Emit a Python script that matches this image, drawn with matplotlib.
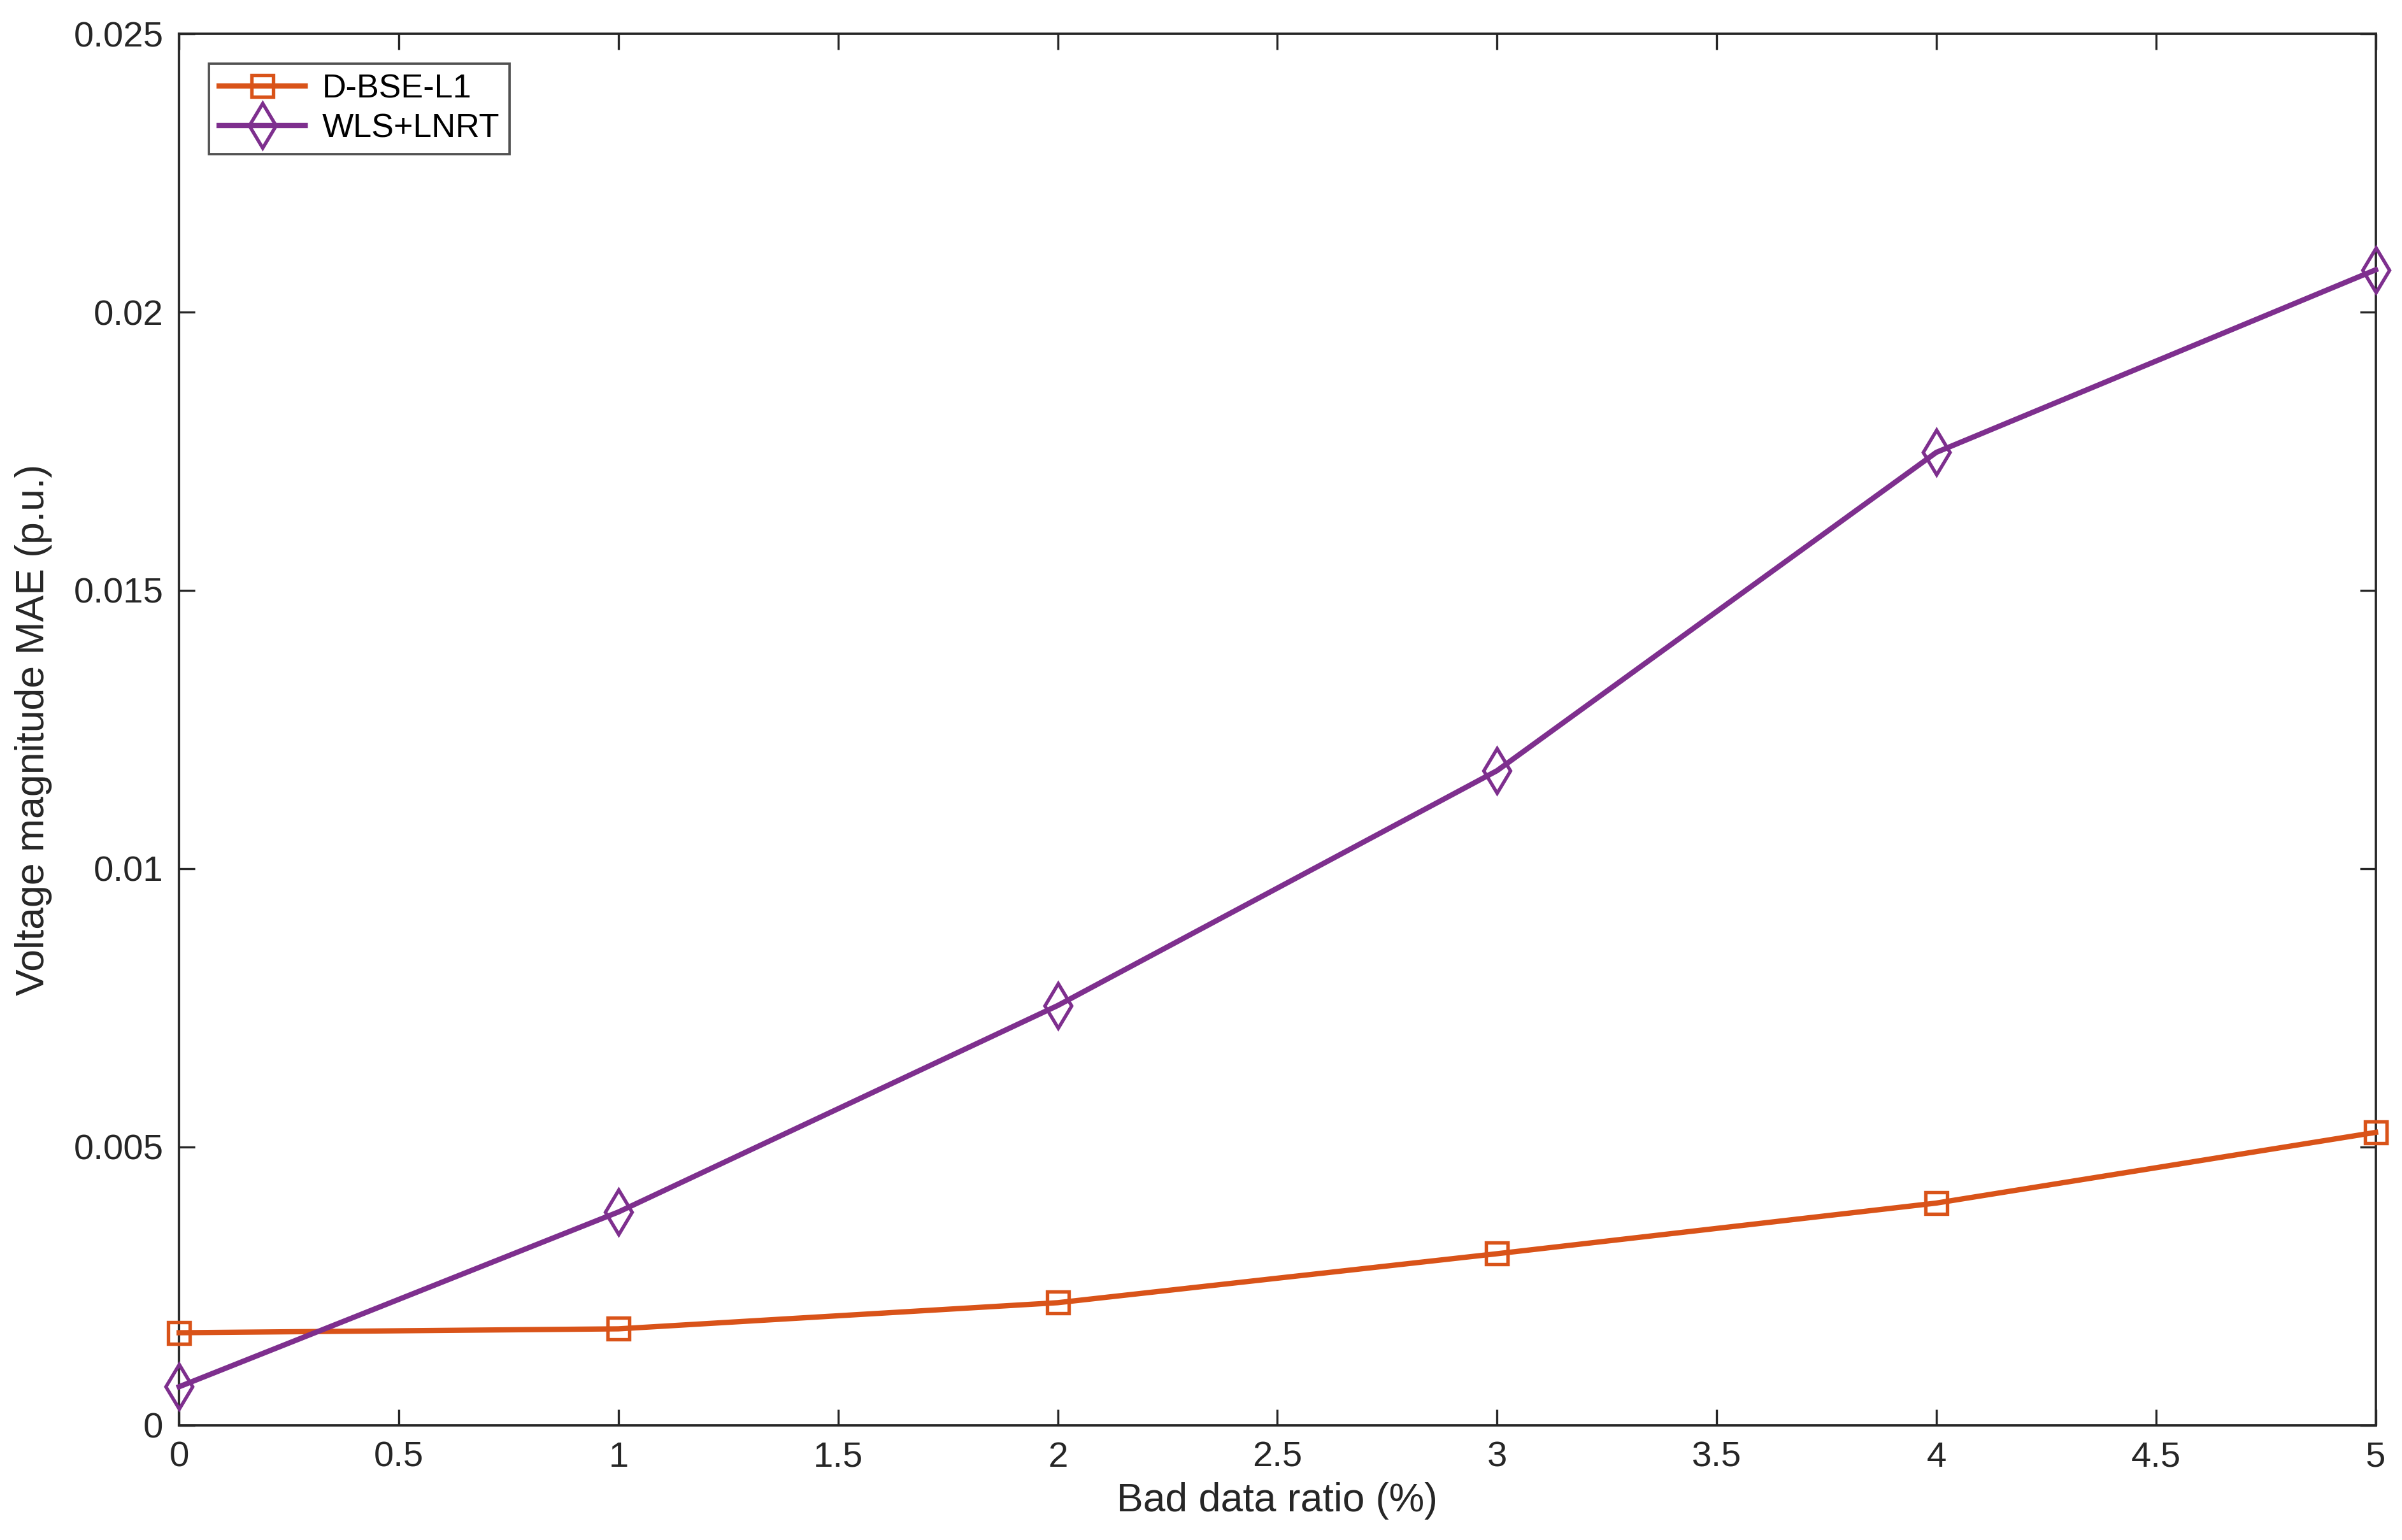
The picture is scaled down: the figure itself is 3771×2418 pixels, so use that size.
import matplotlib
matplotlib.use("Agg")
import matplotlib.pyplot as plt

plt.rcParams["font.family"] = ["Liberation Sans", "DejaVu Sans"]

ratio = [0, 1, 2, 3, 4, 5]
dbse_l1 = [0.00166, 0.00173, 0.00220, 0.00308, 0.00399, 0.00526]
wls_lnrt = [0.00069, 0.00383, 0.00754, 0.01176, 0.01748, 0.02076]

fig = plt.figure(figsize=(3771 / 300, 2418 / 300), dpi=300)
ax = fig.add_axes([0.0746, 0.0746, 0.9144, 0.9034])

ax.plot(ratio, dbse_l1, color="#D95319", marker="s", markersize=8,
        markerfacecolor="none", markeredgewidth=1.3, linewidth=2.0,
        label="D-BSE-L1", clip_on=False, zorder=3)
ax.plot(ratio, wls_lnrt, color="#7E2F8E", marker="d", markersize=12,
        markerfacecolor="none", markeredgewidth=1.3, linewidth=2.0,
        label="WLS+LNRT", clip_on=False, zorder=3)

ax.set_xlim(0, 5)
ax.set_ylim(0, 0.025)
ax.set_xticks([0, 0.5, 1, 1.5, 2, 2.5, 3, 3.5, 4, 4.5, 5])
ax.set_xticklabels(["0", "0.5", "1", "1.5", "2", "2.5", "3", "3.5", "4", "4.5", "5"])
ax.set_yticks([0, 0.005, 0.01, 0.015, 0.02, 0.025])
ax.set_yticklabels(["0", "0.005", "0.01", "0.015", "0.02", "0.025"])
ax.tick_params(direction="in", top=True, right=True, labelsize=13.5,
               colors="#262626", length=6, pad=6)
for s in ax.spines.values():
    s.set_color("#262626")
    s.set_linewidth(0.9)

ax.set_xlabel("Bad data ratio (%)", fontsize=15, color="#262626", labelpad=3)
ax.set_ylabel("Voltage magnitude MAE (p.u.)", fontsize=15, color="#262626", labelpad=8)

leg = ax.legend(loc="upper left", fontsize=12.5, fancybox=False, edgecolor="#262626",
                borderaxespad=0.9, handlelength=2.6, borderpad=0.3, labelspacing=0.25,
                handletextpad=0.5)
leg.get_frame().set_linewidth(0.9)

fig.savefig("out.png", dpi=300, facecolor="white")
